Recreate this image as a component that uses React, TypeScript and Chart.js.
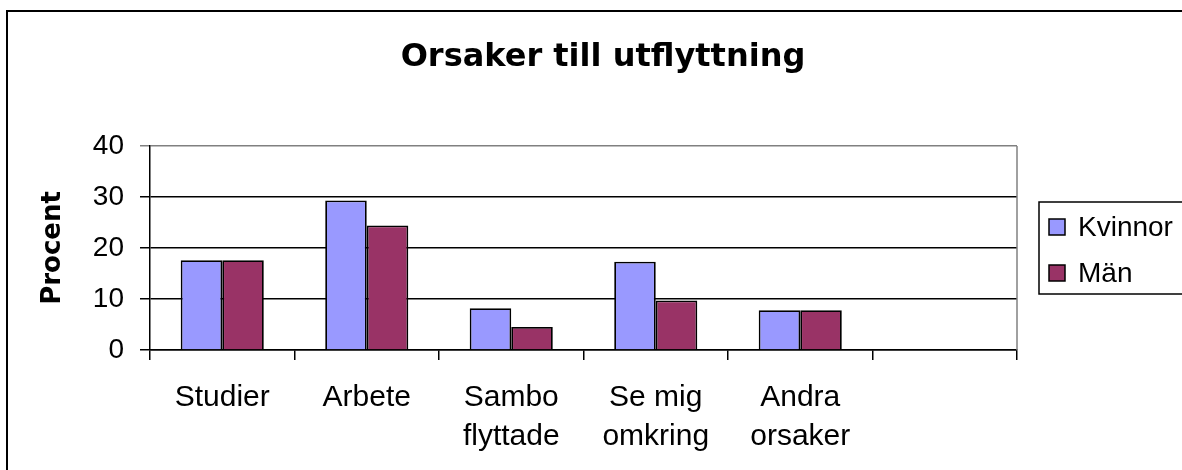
import React, { useEffect, useRef } from "react";
import { Chart, registerables } from "chart.js";

Chart.register(...registerables);

const TITLE = "Orsaker till utflyttning";
const Y_TITLE = "Procent";
const CATEGORIES: (string | string[])[] = [
  "Studier",
  "Arbete",
  ["Sambo", "flyttade"],
  ["Se mig", "omkring"],
  ["Andra", "orsaker"],
  "",
];
const SERIES_NAMES = ["Kvinnor", "Män"];
const KVINNOR = [17.6, 29.3, 8.2, 17.3, 7.8, null];
const MAN = [17.6, 24.4, 4.5, 9.7, 7.8, null];
const COLORS = ["#9999FF", "#993366"];
const Y_MIN = 0;
const Y_MAX = 40;
const Y_STEP = 10;

const CANVAS_W = 1206;
const CANVAS_H = 520;
const PLOT_RIGHT = 1017;

const plotBorderPlugin = {
  id: "plotBorder",
  afterDatasetsDraw(chart: any) {
    const { ctx, chartArea } = chart;
    ctx.save();
    ctx.strokeStyle = "#808080";
    ctx.lineWidth = 1.5;
    ctx.beginPath();
    ctx.moveTo(chartArea.right, chartArea.top);
    ctx.lineTo(chartArea.right, chartArea.bottom);
    ctx.stroke();
    ctx.restore();
  },
};

const boxLegendPlugin = {
  id: "boxLegend",
  afterDraw(chart: any) {
    const { ctx, chartArea } = chart;
    const x0 = chartArea.right + 22;
    const w = 170;
    const h = 92;
    const cy = (chartArea.top + chartArea.bottom) / 2;
    const y0 = cy - h / 2;
    ctx.save();
    ctx.lineWidth = 1.5;
    ctx.strokeStyle = "#000";
    ctx.strokeRect(x0, y0, w, h);
    chart.data.datasets.forEach((ds: any, i: number) => {
      const ry = y0 + 25 + i * 46;
      ctx.fillStyle = ds.backgroundColor;
      ctx.fillRect(x0 + 10, ry - 8, 16, 16);
      ctx.lineWidth = 1.5;
      ctx.strokeStyle = "#000";
      ctx.strokeRect(x0 + 10, ry - 8, 16, 16);
      ctx.fillStyle = "#000";
      ctx.font = "28px 'Liberation Sans', Arial, sans-serif";
      ctx.textBaseline = "middle";
      ctx.textAlign = "left";
      ctx.fillText(ds.label, x0 + 39, ry + 1);
    });
    ctx.restore();
  },
};

export default function App() {
  const ref = useRef<HTMLCanvasElement | null>(null);

  useEffect(() => {
    if (!ref.current) return;
    const chart = new Chart(ref.current, {
      type: "bar",
      data: {
        labels: CATEGORIES as any,
        datasets: [
          {
            label: SERIES_NAMES[0],
            data: KVINNOR as any,
            backgroundColor: COLORS[0],
            borderColor: "#000",
            borderWidth: 1.8,
            categoryPercentage: 0.575,
            barPercentage: 1,
            yAxisID: "y",
          },
          {
            label: SERIES_NAMES[1],
            data: MAN as any,
            backgroundColor: COLORS[1],
            borderColor: "#000",
            borderWidth: 1.8,
            categoryPercentage: 0.575,
            barPercentage: 1,
            yAxisID: "y",
          },
        ],
      },
      options: {
        animation: false,
        responsive: false,
        devicePixelRatio: 1,
        layout: { padding: 0 },
        plugins: {
          legend: { display: false },
          tooltip: { enabled: false },
          title: {
            display: true,
            text: TITLE,
            color: "#000",
            font: { family: "'DejaVu Sans', sans-serif", size: 32, weight: "bold" },
            padding: { top: 38, bottom: 69.6 },
          },
        },
        scales: {
          x: {
            offset: true,
            grid: {
              offset: true,
              drawOnChartArea: false,
              drawTicks: true,
              tickLength: 10,
              color: "#000",
              lineWidth: 1.5,
            },
            border: { display: true, color: "#000", width: 1.5 },
            ticks: {
              color: "#000",
              padding: 18,
              maxRotation: 0,
              autoSkip: false,
              font: { family: "'Liberation Sans', Arial, sans-serif", size: 30, lineHeight: 1.3 },
            },
            afterFit: (scale: any) => {
              scale.height = CANVAS_H - 350;
            },
          },
          y: {
            min: Y_MIN,
            max: Y_MAX,
            grid: {
              color: (ctx: any) => (ctx.tick && ctx.tick.value === Y_MAX ? "#808080" : "#000"),
              lineWidth: 1.5,
              tickLength: 10,
            },
            border: { display: true, color: "#000", width: 1.5 },
            ticks: {
              stepSize: Y_STEP,
              color: "#000",
              padding: 16,
              font: { family: "'Liberation Sans', Arial, sans-serif", size: 28 },
            },
            title: {
              display: true,
              text: Y_TITLE,
              color: "#000",
              font: { family: "'DejaVu Sans', sans-serif", size: 26, weight: "bold" },
              padding: { top: 38, bottom: 0 },
            },
            afterFit: (scale: any) => {
              scale.width = 150;
            },
          },
          legendSpace: {
            type: "linear",
            position: "right",
            display: true,
            grid: { display: false, drawTicks: false },
            border: { display: false },
            ticks: { display: false },
            afterFit: (scale: any) => {
              scale.width = CANVAS_W - PLOT_RIGHT;
            },
          },
        },
      },
      plugins: [plotBorderPlugin, boxLegendPlugin],
    });
    return () => chart.destroy();
  }, []);

  return (
    <div
      style={{
        position: "fixed",
        left: 0,
        top: 0,
        width: 1182,
        height: 470,
        overflow: "hidden",
        background: "#fff",
      }}
    >
      <div
        style={{
          position: "absolute",
          left: 6,
          top: 10,
          width: 1300,
          height: 600,
          border: "2px solid #000",
          boxSizing: "border-box",
        }}
      />
      <canvas
        ref={ref}
        width={CANVAS_W}
        height={CANVAS_H}
        style={{ position: "absolute", left: 0, top: 0, width: CANVAS_W, height: CANVAS_H }}
      />
    </div>
  );
}
